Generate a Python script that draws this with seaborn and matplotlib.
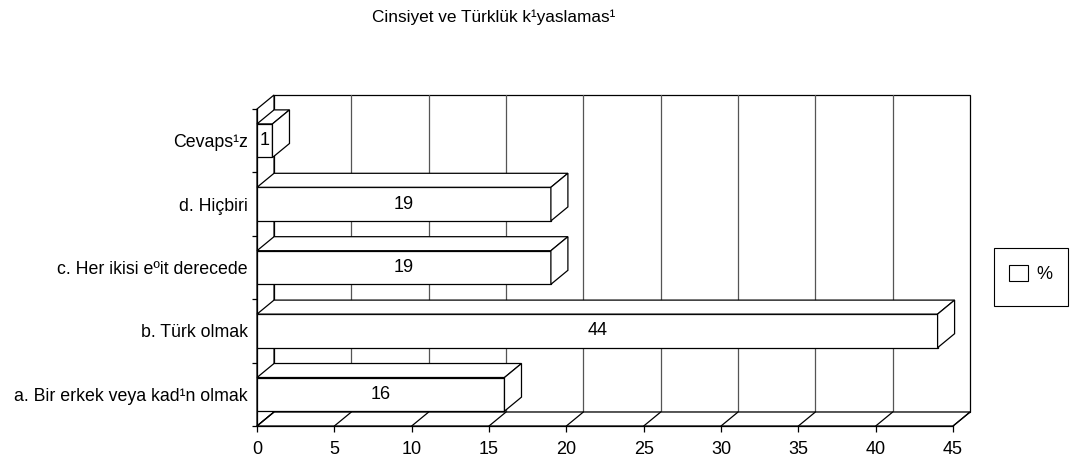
import matplotlib
matplotlib.use("Agg")
import matplotlib.pyplot as plt
from matplotlib.patches import Patch, Polygon, Rectangle
import numpy as np
import pandas as pd
import seaborn as sns

TITLE = "Cinsiyet ve Türklük k¹yaslamas¹"
categories = [
    "Cevaps¹z",
    "d. Hiçbiri",
    "c. Her ikisi eºit derecede",
    "b. Türk olmak",
    "a. Bir erkek veya kad¹n olmak",
]
percent = [1, 19, 19, 44, 16]
x_ticks = list(range(0, 50, 5))
series_label = "%"

# fake 3D depth of the Excel-style box, in pixels (right, up)
DEPTH_PX = (17, 14)
LW = 0.9

sns.set_style("ticks")
plt.rcParams["font.family"] = ["Liberation Sans", "DejaVu Sans"]
plt.rcParams.update({"text.color": "black", "xtick.color": "black",
                     "ytick.color": "black", "axes.labelcolor": "black",
                     "axes.edgecolor": "black"})

fig = plt.figure(figsize=(10.84, 4.63), dpi=100)
ax = fig.add_axes([0.2371, 0.0799, 0.6421, 0.6847])
ax.set_facecolor("none")

df = pd.DataFrame({"category": categories, "percent": percent})
sns.barplot(data=df, x="percent", y="category", orient="h", color="white",
            saturation=1, edgecolor="black", linewidth=LW, width=0.53,
            ax=ax, zorder=3)

xmax = x_ticks[-1]
n = len(categories)
ax.set_xlim(0, xmax)
ax.set_ylim(n - 0.5, -0.5)

# depth offset converted to data units
bb = ax.get_window_extent()
dx = DEPTH_PX[0] * xmax / bb.width
dy = DEPTH_PX[1] * n / bb.height
ybot, ytop = n - 0.5, -0.5

# back wall with its grid
ax.add_patch(Rectangle((dx, ytop - dy), xmax, n, facecolor="white",
                       edgecolor="black", lw=LW, zorder=0.5, clip_on=False))
for t in x_ticks[1:-1]:
    ax.plot([t + dx, t + dx], [ybot - dy, ytop - dy], color="#555555",
            lw=LW, zorder=0.6, clip_on=False)
# left wall and floor
ax.add_patch(Polygon([(0, ybot), (0, ytop), (dx, ytop - dy), (dx, ybot - dy)],
                     facecolor="white", edgecolor="black", lw=LW,
                     zorder=0.7, clip_on=False))
ax.add_patch(Polygon([(0, ybot), (xmax, ybot), (xmax + dx, ybot - dy),
                      (dx, ybot - dy)],
                     facecolor="white", edgecolor="black", lw=LW,
                     zorder=0.7, clip_on=False))
for t in x_ticks:
    ax.plot([t, t + dx], [ybot, ybot - dy], color="black", lw=LW,
            zorder=0.8, clip_on=False)

# top and side faces of each bar
for bar in list(ax.containers[0]):
    v = bar.get_width()
    y0, y1 = sorted([bar.get_y(), bar.get_y() + bar.get_height()])
    ax.add_patch(Polygon([(0, y0), (v, y0), (v + dx, y0 - dy), (dx, y0 - dy)],
                         facecolor="white", edgecolor="black", lw=LW,
                         zorder=3, clip_on=False))
    ax.add_patch(Polygon([(v, y0), (v, y1), (v + dx, y1 - dy),
                          (v + dx, y0 - dy)],
                         facecolor="white", edgecolor="black", lw=LW,
                         zorder=3, clip_on=False))

ax.bar_label(ax.containers[0], label_type="center", fontsize=13, zorder=4)

for side in ["top", "right"]:
    ax.spines[side].set_visible(False)
for side in ["left", "bottom"]:
    ax.spines[side].set_linewidth(LW)
    ax.spines[side].set_zorder(2)

ax.set_xticks(x_ticks)
ax.set_yticks(np.arange(-0.5, n, 1.0), minor=True)
ax.tick_params(axis="x", direction="out", length=4.3, width=LW, pad=6.5,
               labelsize=13, bottom=True)
ax.tick_params(axis="y", which="major", length=0, pad=6.5, labelsize=12.8,
               left=True)
ax.tick_params(axis="y", which="minor", length=3.6, width=LW,
               direction="out", left=True)
ax.set_xlabel("")
ax.set_ylabel("")

fig.text(0.4553, 0.963, TITLE, ha="center", va="center", fontsize=12.4)

# legend: Excel-style square box
fig.add_artist(Rectangle((994 / 1084, 1 - 306 / 463), 74 / 1084, 58 / 463,
                         transform=fig.transFigure, facecolor="white",
                         edgecolor="black", lw=0.8))
fig.legend(handles=[Patch(facecolor="white", edgecolor="black", lw=0.8,
                          label=series_label)],
           loc="center left", bbox_to_anchor=(1009 / 1084, 1 - 274 / 463),
           frameon=False, fontsize=13, handlelength=1.05, handleheight=1.05,
           borderpad=0, borderaxespad=0, handletextpad=0.45)

fig.savefig("out.png", dpi=100)
